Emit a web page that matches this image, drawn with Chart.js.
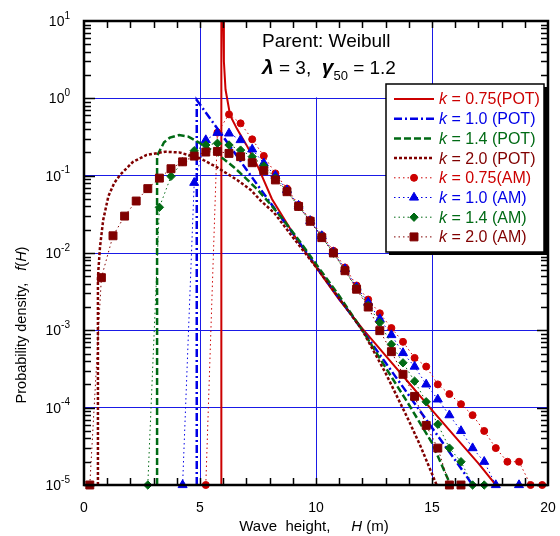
<!DOCTYPE html>
<html>
<head>
<meta charset="utf-8">
<script src="https://cdn.jsdelivr.net/npm/chart.js@4.4.1/dist/chart.umd.min.js"></script>
<style>
  html, body { margin: 0; padding: 0; background: #fff; }
</style>
</head>
<body>
<canvas id="myWeibullChart" width="560" height="536"></canvas>
<script>
// ---- data (H in m, f in 1/m) ----
// POT model curves
const potH075 = [5.92, 5.92, 5.96, 6.0, 6.03, 6.1, 6.3, 6.6, 7.0, 7.5, 8.1, 9.2, 10.2, 11.0, 12.0, 13.0, 14.0, 15.0, 16.0, 17.0, 17.75];
const potF075 = [1e-5, 10, null, 10, 3, 1.3, 0.6, 0.4, 0.25, 0.13, 0.05, 0.0145, 0.0054, 0.0025, 0.00105, 4.7e-4, 2.1e-4, 9.3e-5, 4.2e-5, 1.9e-5, 1e-5];

const potH10 = [4.86, 4.86, 6, 7, 8, 9, 10, 11, 12, 13, 14, 15, 16, 16.75];
const potF10 = [1e-5, 0.95, 0.32, 0.12, 0.046, 0.018, 0.0068, 0.0026, 0.001, 3.8e-4, 1.45e-4, 5.5e-5, 2.1e-5, 1e-5];

const potH14 = [3.15, 3.15, 3.3, 3.45, 3.7, 4.1, 4.5, 5.0, 5.5, 6.0, 6.5, 7.0, 7.5, 8.0, 8.5, 9.0, 9.5, 10, 11, 12, 13, 14, 15, 15.8];
const potF14 = [1e-5, 0.18, 0.22, 0.27, 0.31, 0.335, 0.32, 0.263, 0.214, 0.166, 0.126, 0.091, 0.065, 0.044, 0.029, 0.0186, 0.0117, 0.0072, 0.0028, 0.001, 3.3e-4, 1.1e-4, 3.5e-5, 1e-5];

const potH20 = [0.6, 0.6, 0.62, 0.69, 0.83, 1.05, 1.3, 1.55, 2.1, 2.7, 3.5, 4.1, 5.0, 5.7, 6.6, 7.2, 7.6, 8.2, 9.0, 10, 11, 12, 13, 14, 14.5, 15.2];
const potF20 = [1e-5, 0.0045, 0.006, 0.012, 0.027, 0.054, 0.08, 0.102, 0.15, 0.185, 0.204, 0.2, 0.168, 0.13, 0.088, 0.065, 0.048, 0.033, 0.016, 0.0066, 0.0026, 0.001, 2.8e-4, 6.8e-5, 3.2e-5, 1e-5];

// AM simulated histograms (bin centres)
const amH075 = [5.25, 5.75, 6.25, 6.75, 7.25, 7.75, 8.25, 8.75, 9.25, 9.75, 10.25, 10.75, 11.25, 11.75, 12.25, 12.75, 13.25, 13.75, 14.25, 14.75, 15.25, 15.75, 16.25, 16.75, 17.25, 17.75, 18.25, 18.75, 19.25, 19.75];
const amF075 = [1e-5, 0.36, 0.62, 0.475, 0.295, 0.18, 0.107, 0.068, 0.042, 0.027, 0.017, 0.0107, 0.0065, 0.0038, 0.0025, 0.00166, 0.00107, 7.1e-4, 4.4e-4, 3.4e-4, 2.0e-4, 1.5e-4, 1.11e-4, 8.0e-5, 5.0e-5, 3.0e-5, 2.0e-5, 2.0e-5, 1e-5, 1e-5];

const amH10 = [4.25, 4.75, 5.25, 5.75, 6.25, 6.75, 7.25, 7.75, 8.25, 8.75, 9.25, 9.75, 10.25, 10.75, 11.25, 11.75, 12.25, 12.75, 13.25, 13.75, 14.25, 14.75, 15.25, 15.75, 16.25, 16.75, 17.25, 17.75, 18.75];
const amF10 = [1e-5, 0.081, 0.289, 0.359, 0.352, 0.289, 0.219, 0.145, 0.1, 0.065, 0.041, 0.026, 0.0166, 0.0102, 0.0062, 0.0036, 0.0023, 0.0014, 8.7e-4, 5.1e-4, 3.4e-4, 2.0e-4, 1.28e-4, 8.0e-5, 5.0e-5, 3.0e-5, 2.0e-5, 1e-5, 1e-5];

const amH14 = [2.75, 3.25, 3.75, 4.25, 4.75, 5.25, 5.75, 6.25, 6.75, 7.25, 7.75, 8.25, 8.75, 9.25, 9.75, 10.25, 10.75, 11.25, 11.75, 12.25, 12.75, 13.25, 13.75, 14.25, 14.75, 15.25, 15.75, 16.25, 16.75, 17.25];
const amF14 = [1e-5, 0.039, 0.098, 0.151, 0.21, 0.249, 0.262, 0.249, 0.214, 0.176, 0.133, 0.093, 0.063, 0.040, 0.026, 0.0162, 0.01, 0.006, 0.0035, 0.0021, 0.00126, 6.6e-4, 3.8e-4, 2.2e-4, 1.19e-4, 6.1e-5, 3.0e-5, 2.0e-5, 1e-5, 1e-5];

const amH20 = [0.25, 0.75, 1.25, 1.75, 2.25, 2.75, 3.25, 3.75, 4.25, 4.75, 5.25, 5.75, 6.25, 6.75, 7.25, 7.75, 8.25, 8.75, 9.25, 9.75, 10.25, 10.75, 11.25, 11.75, 12.25, 12.75, 13.25, 13.75, 14.25, 14.75, 15.25, 15.75, 16.25];
const amF20 = [1e-5, 0.0048, 0.0167, 0.030, 0.047, 0.068, 0.093, 0.123, 0.151, 0.179, 0.202, 0.206, 0.194, 0.176, 0.147, 0.116, 0.088, 0.062, 0.040, 0.0257, 0.0158, 0.01, 0.0059, 0.0034, 0.002, 0.00099, 5.3e-4, 2.7e-4, 1.4e-4, 5.9e-5, 3.0e-5, 1e-5, 1e-5];

// axis tick labels
const xTicks = [0, 5, 10, 15, 20];
const yExponents = [1, 0, -1, -2, -3, -4, -5];
const legendLabels = ["0.75(POT)", "1.0 (POT)", "1.4 (POT)", "2.0 (POT)", "0.75(AM)", "1.0 (AM)", "1.4 (AM)", "2.0 (AM)"];

const RED = "#cc0000", BLUE = "#0000e6", GREEN = "#006a14", DKRED = "#800000";
const FONT = "'Liberation Sans', Arial, sans-serif";

function pts(h, f) {
  return h.map((v, i) => ({ x: v, y: f[i] }));
}

function potSet(h, f, color, dash, width, order) {
  return {
    data: pts(h, f), showLine: true, borderColor: color, borderWidth: width,
    borderDash: dash, pointRadius: 0, spanGaps: false, tension: 0, order: order,
  };
}

function amSet(h, f, color, style, radius, order) {
  return {
    data: pts(h, f), showLine: true, borderColor: color, borderWidth: 1,
    borderDash: [1.5, 3], pointStyle: style, pointRadius: radius,
    pointBackgroundColor: color, pointBorderColor: color, pointBorderWidth: 1,
    tension: 0, clip: false, order: order,
  };
}

const datasets = [
  potSet(potH075, potF075, RED, [], 2, 7),
  potSet(potH10, potF10, BLUE, [8, 3, 2, 3], 2.5, 6),
  potSet(potH14, potF14, GREEN, [7, 3], 2.5, 5),
  potSet(potH20, potF20, DKRED, [3, 2], 2.5, 4),
  amSet(amH075, amF075, RED, "circle", 3.5, 3),
  amSet(amH10, amF10, BLUE, "triangle", 5.2, 2),
  amSet(amH14, amF14, GREEN, "rectRot", 4.2, 1),
  amSet(amH20, amF20, DKRED, "rect", 5.6, 0),
];

function isDecade(v) {
  const l = Math.log10(v);
  return Math.abs(l - Math.round(l)) < 1e-6;
}

// text with an italic "k" etc. drawn as runs
function drawRuns(c, runs, x, y) {
  let cx = x;
  runs.forEach((r) => {
    c.font = r.font;
    c.fillText(r.text, cx, y + (r.dy || 0));
    cx += c.measureText(r.text).width;
  });
  return cx - x;
}
function runsWidth(c, runs) {
  let w = 0;
  runs.forEach((r) => { c.font = r.font; w += c.measureText(r.text).width; });
  return w;
}

const decor = {
  id: "decor",
  beforeDatasetsDraw(chart) {
    const c = chart.ctx, xs = chart.scales.x, ys = chart.scales.y, a = chart.chartArea;
    // white patch behind the annotation
    c.save();
    c.fillStyle = "#fff";
    c.fillRect(xs.getPixelForValue(7.2), a.top + 1, xs.getPixelForValue(14.1) - xs.getPixelForValue(7.2), ys.getPixelForValue(1) - a.top - 2);
    c.restore();
  },
  afterDatasetsDraw(chart) {
    const c = chart.ctx, xs = chart.scales.x, ys = chart.scales.y, a = chart.chartArea;
    c.save();

    // inward tick marks on all four sides
    c.strokeStyle = "#000";
    c.lineWidth = 1.5;
    c.beginPath();
    for (let v = 1; v < 20; v++) {
      const px = Math.round(xs.getPixelForValue(v)) + 0.5;
      c.moveTo(px, a.bottom); c.lineTo(px, a.bottom - 7);
      c.moveTo(px, a.top); c.lineTo(px, a.top + 7);
    }
    for (let e = -5; e <= 0; e++) {
      for (let m = 1; m <= 9; m++) {
        const v = m * Math.pow(10, e);
        const py = Math.round(ys.getPixelForValue(v)) + 0.5;
        const len = m === 1 ? 11 : 7;
        c.moveTo(a.left, py); c.lineTo(a.left + len, py);
        c.moveTo(a.right, py); c.lineTo(a.right - len, py);
      }
    }
    c.stroke();

    // frame
    c.lineWidth = 2.5;
    c.strokeRect(a.left, a.top, a.right - a.left, a.bottom - a.top);

    // annotation
    c.fillStyle = "#000";
    c.textBaseline = "alphabetic";
    c.textAlign = "left";
    c.font = "19px " + FONT;
    c.fillText("Parent: Weibull", a.left + 178, a.top + 26);
    drawRuns(c, [
      { text: "\u03bb", font: "italic bold 21px " + FONT },
      { text: " = 3,  ", font: "19px " + FONT },
      { text: "\u03b3", font: "italic bold 21px " + FONT },
      { text: "50", font: "13px " + FONT, dy: 6 },
      { text: " = 1.2", font: "19px " + FONT },
    ], a.left + 178, a.top + 53);

    // legend box
    const lx = a.left + 302, ly = a.top + 63, lw = 158, lh = 168;
    c.fillStyle = "#000";
    c.fillRect(lx + 3, ly + 3, lw, lh);
    c.fillStyle = "#fff";
    c.fillRect(lx, ly, lw, lh);
    c.lineWidth = 1.5;
    c.strokeStyle = "#000";
    c.strokeRect(lx, ly, lw, lh);

    const metas = chart.data.datasets;
    legendLabels.forEach((lab, i) => {
      const ds = metas[i];
      const y = ly + 15 + i * 19.7;
      c.save();
      c.strokeStyle = ds.borderColor;
      c.lineWidth = ds.borderWidth;
      c.setLineDash(ds.borderDash);
      c.beginPath();
      c.moveTo(lx + 8, y); c.lineTo(lx + 48, y);
      c.stroke();
      c.restore();
      if (ds.pointRadius > 0) {
        c.fillStyle = ds.pointBackgroundColor;
        c.strokeStyle = ds.pointBorderColor;
        c.lineWidth = 1;
        Chart.helpers.drawPoint(c, { pointStyle: ds.pointStyle, radius: ds.pointRadius, borderWidth: 1, rotation: 0 }, lx + 28, y);
      }
      c.fillStyle = ds.borderColor;
      c.textBaseline = "middle";
      drawRuns(c, [
        { text: "k", font: "italic 16px " + FONT },
        { text: " = " + lab, font: "16px " + FONT },
      ], lx + 53, y + 1);
    });

    // tick labels
    c.fillStyle = "#000";
    c.textBaseline = "middle";
    c.textAlign = "center";
    c.font = "14px " + FONT;
    xTicks.forEach((v) => c.fillText(String(v), xs.getPixelForValue(v), a.bottom + 23));

    c.textAlign = "left";
    yExponents.forEach((e) => {
      const py = ys.getPixelForValue(Math.pow(10, e));
      const ex = String(e);
      c.font = "10px " + FONT;
      const ew = c.measureText(ex).width;
      c.font = "14px " + FONT;
      const bw = c.measureText("10").width;
      const right = a.left - 14;
      c.fillText("10", right - ew - bw, py + 1);
      c.font = "10px " + FONT;
      c.fillText(ex, right - ew, py - 5);
    });

    // axis titles
    const xr = [
      { text: "Wave  height,     ", font: "15px " + FONT },
      { text: "H", font: "italic 15px " + FONT },
      { text: " (m)", font: "15px " + FONT },
    ];
    const xw = runsWidth(c, xr);
    drawRuns(c, xr, (a.left + a.right) / 2 - xw / 2 - 2, a.bottom + 42);

    const yr = [
      { text: "Probability density,   ", font: "14.5px " + FONT },
      { text: "f", font: "italic 14.5px " + FONT },
      { text: "(", font: "14.5px " + FONT },
      { text: "H", font: "italic 14.5px " + FONT },
      { text: ")", font: "14.5px " + FONT },
    ];
    const yw = runsWidth(c, yr);
    c.translate(22, a.top + 304);
    c.rotate(-Math.PI / 2);
    drawRuns(c, yr, -yw / 2, 0);
    c.restore();
  },
};

const ctx = document.getElementById("myWeibullChart");
new Chart(ctx, {
  type: "scatter",
  data: { datasets: datasets },
  options: {
    responsive: false,
    animation: false,
    devicePixelRatio: 1,
    layout: { padding: { left: 84, top: 21, right: 12, bottom: 51 } },
    plugins: { legend: { display: false }, tooltip: { enabled: false } },
    scales: {
      x: {
        type: "linear", min: 0, max: 20,
        ticks: { display: false, stepSize: 5 },
        grid: { color: "#1a1ae6", lineWidth: 1, drawTicks: false },
        border: { display: false },
      },
      y: {
        type: "logarithmic", min: 1e-5, max: 10,
        ticks: { display: false },
        grid: {
          color: (c) => (c.tick && isDecade(c.tick.value) ? "#1a1ae6" : "rgba(0,0,0,0)"),
          lineWidth: 1, drawTicks: false,
        },
        border: { display: false },
      },
    },
  },
  plugins: [decor],
});
</script>
</body>
</html>
